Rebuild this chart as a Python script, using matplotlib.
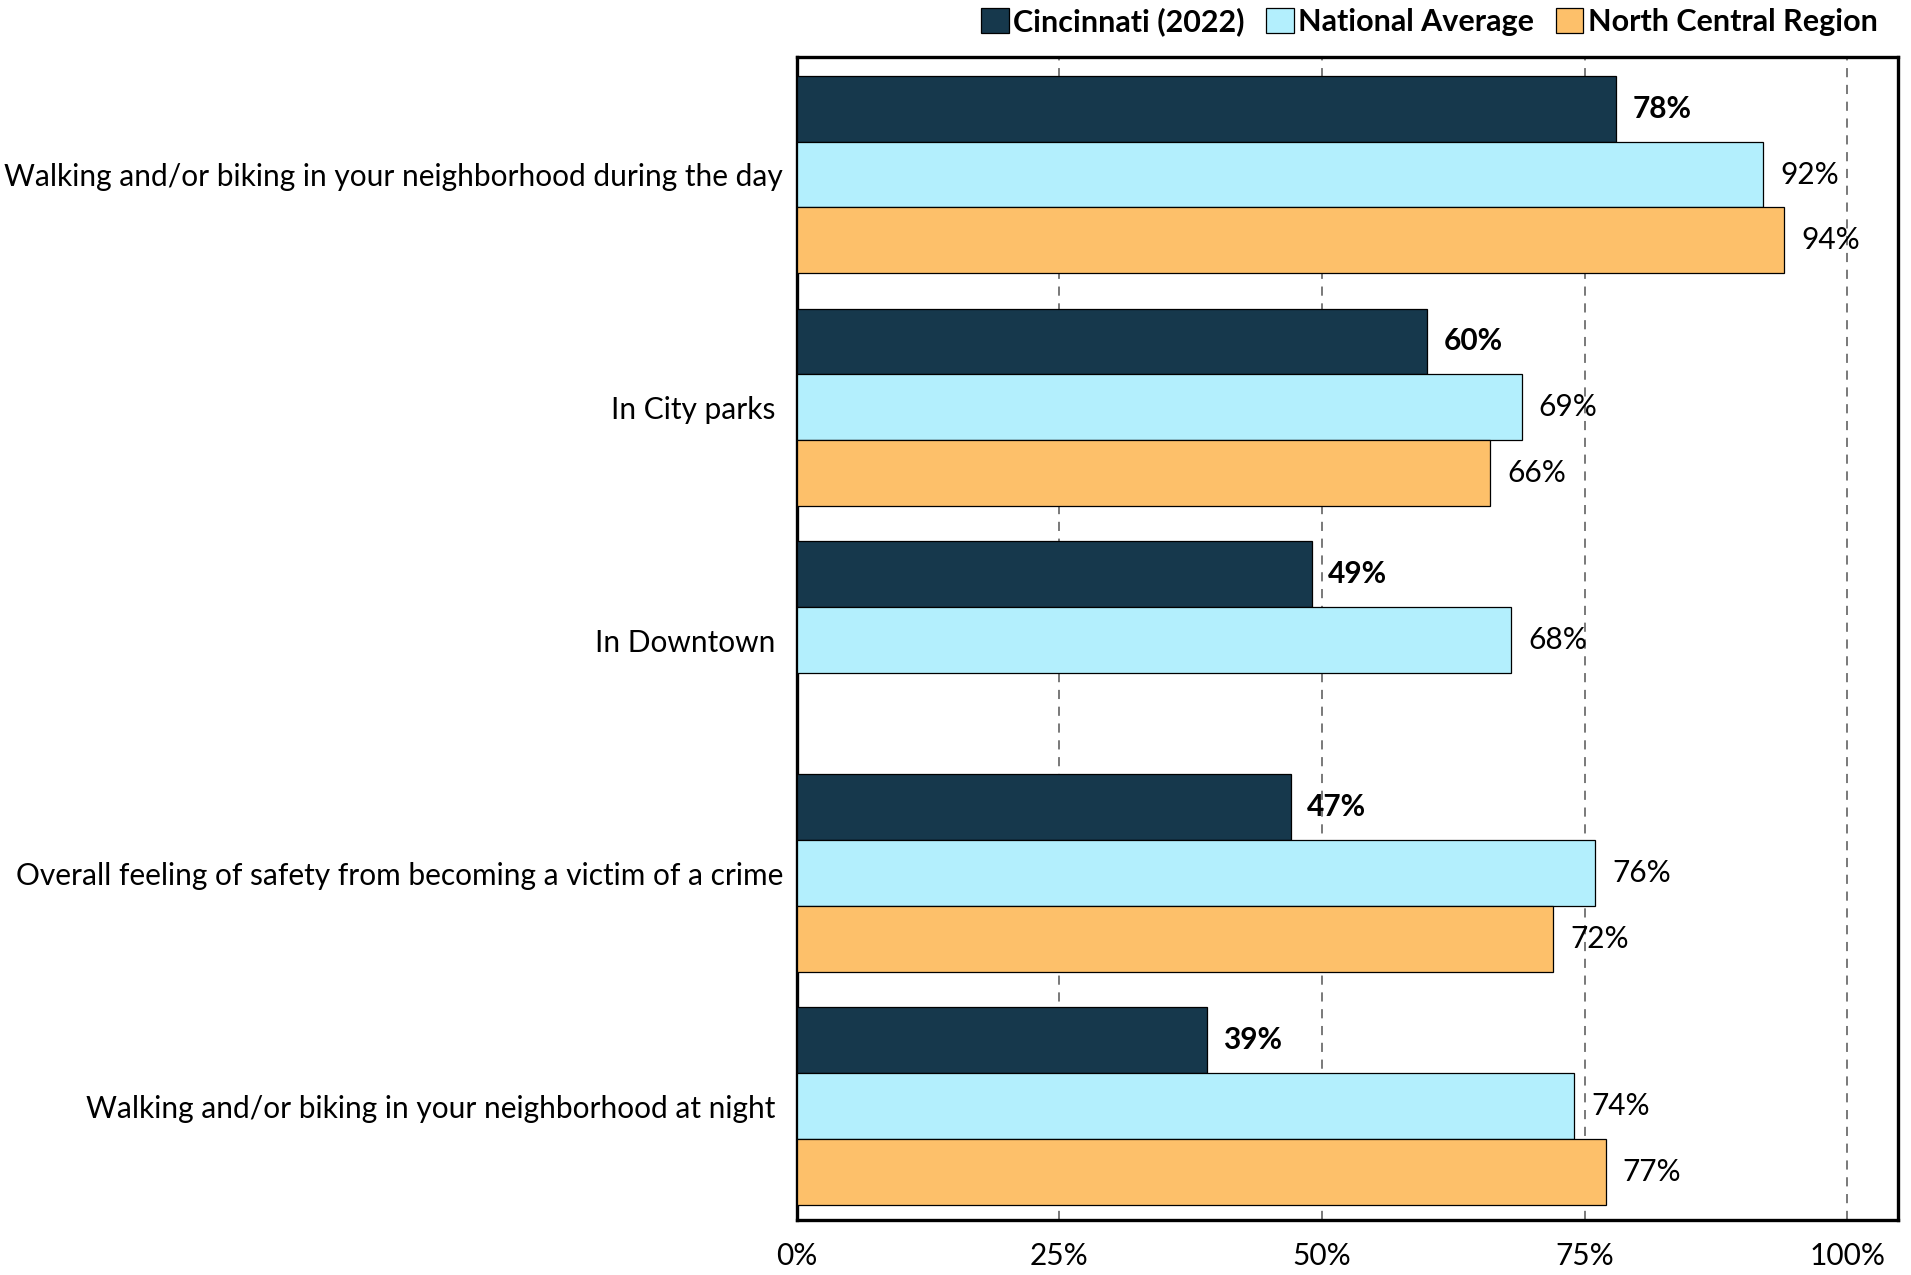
import numpy as np
import matplotlib.pyplot as plt

plt.rcParams['font.family'] = ['Lato', 'DejaVu Sans']

categories = [
    "Walking and/or biking in your neighborhood during the day",
    "In City parks ",
    "In Downtown ",
    "Overall feeling of safety from becoming a victim of a crime",
    "Walking and/or biking in your neighborhood at night ",
]
series_names = ["Cincinnati (2022)", "National Average", "North Central Region"]
cincinnati = [78, 60, 49, 47, 39]
national = [92, 69, 68, 76, 74]
north_central = [94, 66, np.nan, 72, 77]

colors = ["#16384c", "#b3effd", "#fdc06a"]
fs = 21.5

fig = plt.figure(figsize=(19.11, 12.75), dpi=100)
ax = fig.add_axes([0.417, 0.043, 0.576, 0.912])

h = 0.283
y = np.arange(len(categories))
all_series = [cincinnati, national, north_central]
for k, (vals, name, col) in enumerate(zip(all_series, series_names, colors)):
    vals = np.array(vals, dtype=float)
    pos = y + (k - 1) * h
    ok = ~np.isnan(vals)
    ax.barh(pos[ok], vals[ok], height=h, color=col, edgecolor="black",
            linewidth=0.9, label=name, zorder=3)
    for p, v in zip(pos[ok], vals[ok]):
        ax.text(v + 1.6, p, f"{v:.0f}%", va="center", ha="left", fontsize=fs,
                fontweight="bold" if k == 0 else "normal", zorder=4)

ax.set_xlim(0, 104.8)
ax.set_ylim(4.49, -0.503)
ax.set_xticks([0, 25, 50, 75, 100])
ax.set_xticklabels(["0%", "25%", "50%", "75%", "100%"], fontsize=fs)
ax.set_yticks(y)
ax.set_yticklabels(categories, fontsize=fs)
ax.tick_params(axis="x", length=0, pad=16)
ax.tick_params(axis="y", length=0, pad=10)
ax.xaxis.grid(True, linestyle=(0, (6, 5)), color="#555555", linewidth=1.1, zorder=0)
for s in ax.spines.values():
    s.set_linewidth(2.4)
    s.set_color("black")

fig.legend(loc="upper right", bbox_to_anchor=(0.997, 1.016), ncol=3, frameon=False,
           prop={"weight": "bold", "size": 22}, handlelength=0.9, handleheight=0.9,
           handletextpad=0.15, columnspacing=0.7)

fig.savefig("out.png", dpi=100)
